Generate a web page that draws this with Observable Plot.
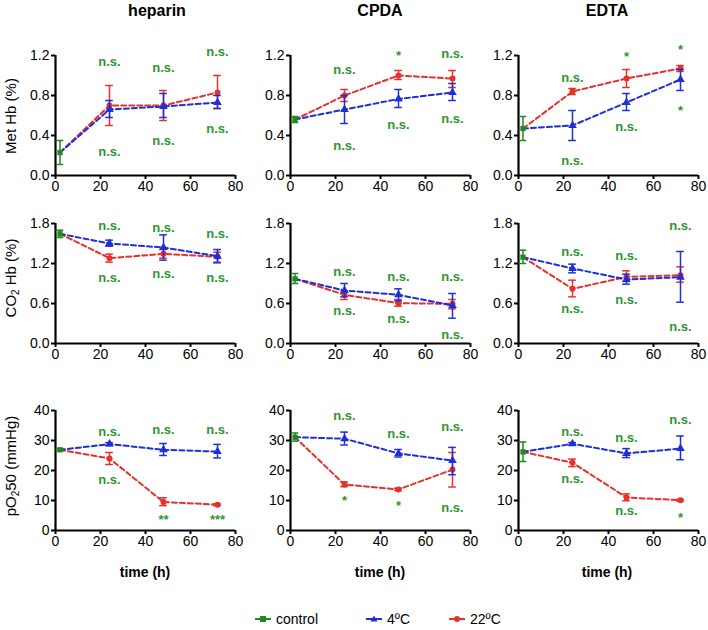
<!DOCTYPE html>
<html>
<head>
<meta charset="utf-8">
<script src="https://cdn.jsdelivr.net/npm/d3@7"></script>
<script src="https://cdn.jsdelivr.net/npm/@observablehq/plot@0.6"></script>
<style>
  html, body { margin: 0; padding: 0; background: #fff; }
  #root { position: relative; width: 708px; height: 630px; font-family: "Liberation Sans", Arial, sans-serif; color: #000; overflow: hidden; }
  .abs { position: absolute; }
  .title { font-weight: bold; font-size: 16px; transform: translateX(-50%); white-space: nowrap; }
  .xlab { font-weight: bold; font-size: 14px; transform: translateX(-50%); white-space: nowrap; }
  .ylab { font-size: 15px; white-space: nowrap; transform: translate(-50%, -50%) rotate(-90deg); }
  .ylab sub { font-size: 10px; vertical-align: -3px; line-height: 0; }
  .legend { display: flex; align-items: center; font-size: 14px; }
  .legend svg { margin-right: 5px; }
</style>
</head>
<body>
<div id="root"></div>
<script>
// ---------- data ----------
const anticoagulants = ["heparin", "CPDA", "EDTA"];
const measures = ["Met Hb", "CO2 Hb", "pO2 50"];
const xTicks = [0, 20, 40, 60, 80];
const yTicksMet = [0, 0.4, 0.8, 1.2];
const yTicksCO2 = [0, 0.6, 1.2, 1.8];
const yTicksPO2 = [0, 10, 20, 30, 40];
const controlTime = 2;
const seriesNames = ["control", "4ºC", "22ºC"];

// rows: [time, mean, low, high]
const heparinMet_control = [2, 0.23, 0.11, 0.35];
const heparinMet_4C  = [[24, 0.66, 0.58, 0.75], [48, 0.69, 0.58, 0.82], [72, 0.73, 0.67, 0.80]];
const heparinMet_22C = [[24, 0.70, 0.50, 0.90], [48, 0.70, 0.55, 0.85], [72, 0.83, 0.67, 1.00]];
const heparinMet_sig = [[24, 1.14, "n.s."], [48, 1.08, "n.s."], [72, 1.24, "n.s."], [24, 0.24, "n.s."], [48, 0.35, "n.s."], [72, 0.47, "n.s."]];

const cpdaMet_control = [2, 0.56, 0.53, 0.59];
const cpdaMet_4C  = [[24, 0.66, 0.52, 0.80], [48, 0.765, 0.68, 0.86], [72, 0.83, 0.75, 0.92]];
const cpdaMet_22C = [[24, 0.80, 0.74, 0.86], [48, 1.00, 0.96, 1.05], [72, 0.97, 0.88, 1.05]];
const cpdaMet_sig = [[24, 1.06, "n.s."], [48, 1.20, "*"], [72, 1.22, "n.s."], [24, 0.30, "n.s."], [48, 0.51, "n.s."], [72, 0.57, "n.s."]];

const edtaMet_control = [2, 0.47, 0.35, 0.59];
const edtaMet_4C  = [[24, 0.50, 0.35, 0.65], [48, 0.73, 0.65, 0.82], [72, 0.96, 0.85, 1.06]];
const edtaMet_22C = [[24, 0.84, 0.81, 0.87], [48, 0.97, 0.88, 1.06], [72, 1.07, 1.04, 1.10]];
const edtaMet_sig = [[24, 0.98, "n.s."], [48, 1.19, "*"], [72, 1.26, "*"], [24, 0.15, "n.s."], [48, 0.49, "n.s."], [72, 0.65, "*"]];

const heparinCO2_control = [2, 1.645, 1.59, 1.70];
const heparinCO2_4C  = [[24, 1.50, 1.46, 1.55], [48, 1.44, 1.25, 1.63], [72, 1.31, 1.21, 1.41]];
const heparinCO2_22C = [[24, 1.28, 1.22, 1.34], [48, 1.345, 1.28, 1.41], [72, 1.30, 1.22, 1.37]];
const heparinCO2_sig = [[24, 1.76, "n.s."], [48, 1.74, "n.s."], [72, 1.65, "n.s."], [24, 0.985, "n.s."], [48, 1.045, "n.s."], [72, 0.985, "n.s."]];

const cpdaCO2_control = [2, 0.97, 0.90, 1.05];
const cpdaCO2_4C  = [[24, 0.795, 0.70, 0.90], [48, 0.73, 0.64, 0.82], [72, 0.57, 0.38, 0.75]];
const cpdaCO2_22C = [[24, 0.73, 0.66, 0.79], [48, 0.605, 0.56, 0.66], [72, 0.595, 0.52, 0.66]];
const cpdaCO2_sig = [[24, 1.08, "n.s."], [48, 1.005, "n.s."], [72, 1.005, "n.s."], [24, 0.495, "n.s."], [48, 0.37, "n.s."], [72, 0.135, "n.s."]];

const edtaCO2_control = [2, 1.295, 1.20, 1.40];
const edtaCO2_4C  = [[24, 1.125, 1.06, 1.19], [48, 0.96, 0.89, 1.04], [72, 0.995, 0.62, 1.38]];
const edtaCO2_22C = [[24, 0.82, 0.70, 0.95], [48, 1.00, 0.93, 1.09], [72, 1.025, 0.92, 1.15]];
const edtaCO2_sig = [[24, 1.375, "n.s."], [48, 1.31, "n.s."], [72, 1.77, "n.s."], [24, 0.52, "n.s."], [48, 0.655, "n.s."], [72, 0.245, "n.s."]];

const heparinPO2_control = [2, 26.9, 26.5, 27.3];
const heparinPO2_4C  = [[24, 28.8, 28.3, 29.3], [48, 26.9, 25.0, 29.0], [72, 26.3, 24.2, 28.7]];
const heparinPO2_22C = [[24, 24.0, 22.0, 26.0], [48, 9.5, 8.3, 10.9], [72, 8.6, 8.3, 8.9]];
const heparinPO2_sig = [[24, 32.9, "n.s."], [48, 33.4, "n.s."], [72, 33.4, "n.s."], [24, 16.9, "n.s."], [48, 3.6, "**"], [72, 3.6, "***"]];

const cpdaPO2_control = [2, 31.1, 29.8, 32.5];
const cpdaPO2_4C  = [[24, 30.6, 28.5, 32.8], [48, 25.7, 24.5, 27.0], [72, 23.3, 18.6, 27.7]];
const cpdaPO2_22C = [[24, 15.3, 14.6, 16.2], [48, 13.7, 13.3, 14.1], [72, 20.3, 14.5, 26.0]];
const cpdaPO2_sig = [[24, 38.1, "n.s."], [48, 32.2, "n.s."], [72, 34.6, "n.s."], [24, 10.0, "*"], [48, 8.3, "*"], [72, 7.4, "n.s."]];

const edtaPO2_control = [2, 26.2, 23.0, 29.5];
const edtaPO2_4C  = [[24, 28.9, 28.5, 29.3], [48, 25.7, 24.3, 27.3], [72, 27.3, 23.6, 31.5]];
const edtaPO2_22C = [[24, 22.6, 21.3, 23.8], [48, 11.0, 9.9, 12.2], [72, 10.1, 9.8, 10.4]];
const edtaPO2_sig = [[24, 32.9, "n.s."], [48, 30.9, "n.s."], [72, 36.8, "n.s."], [24, 17.1, "n.s."], [48, 6.4, "n.s."], [72, 4.2, "*"]];

// ---------- styling / layout ----------
const COLORS = { control: "#1f8a1f", c4: "#1f2fd6", c22: "#e8302a", sig: "#2e9630" };
const FONT = "'Liberation Sans', Arial, sans-serif";
const colX0 = [55, 290, 518];     // pixel of x=0 in each column
const rowTop = [55, 223, 410];    // pixel of y-axis top in each row
const PW = 180, PH = 120;
const ML = 45, MR = 15, MT = 22, MB = 30;

const panels = [
  [heparinMet_control, heparinMet_4C, heparinMet_22C, heparinMet_sig, yTicksMet, ".1f"],
  [cpdaMet_control, cpdaMet_4C, cpdaMet_22C, cpdaMet_sig, yTicksMet, ".1f"],
  [edtaMet_control, edtaMet_4C, edtaMet_22C, edtaMet_sig, yTicksMet, ".1f"],
  [heparinCO2_control, heparinCO2_4C, heparinCO2_22C, heparinCO2_sig, yTicksCO2, ".1f"],
  [cpdaCO2_control, cpdaCO2_4C, cpdaCO2_22C, cpdaCO2_sig, yTicksCO2, ".1f"],
  [edtaCO2_control, edtaCO2_4C, edtaCO2_22C, edtaCO2_sig, yTicksCO2, ".1f"],
  [heparinPO2_control, heparinPO2_4C, heparinPO2_22C, heparinPO2_sig, yTicksPO2, "d"],
  [cpdaPO2_control, cpdaPO2_4C, cpdaPO2_22C, cpdaPO2_sig, yTicksPO2, "d"],
  [edtaPO2_control, edtaPO2_4C, edtaPO2_22C, edtaPO2_sig, yTicksPO2, "d"]
];

const root = document.getElementById("root");

function toRows(arr) { return arr.map(([x, y, lo, hi]) => ({x, y, lo, hi})); }

function errorMarks(rows, color) {
  const cap = 1.7;
  return [
    Plot.ruleX(rows, {x: "x", y1: "lo", y2: "hi", stroke: color, strokeWidth: 1.5}),
    Plot.ruleY(rows, {y: "hi", x1: d => d.x - cap, x2: d => d.x + cap, stroke: color, strokeWidth: 1.5}),
    Plot.ruleY(rows, {y: "lo", x1: d => d.x - cap, x2: d => d.x + cap, stroke: color, strokeWidth: 1.5})
  ];
}

function makePanel([control, s4, s22, sig, yTicks, fmt]) {
  const yMax = yTicks[yTicks.length - 1];
  const ctrl = toRows([control]);
  const r4 = toRows(s4), r22 = toRows(s22);
  const line4 = ctrl.concat(r4), line22 = ctrl.concat(r22);
  const sigRows = sig.map(([x, y, t]) => ({x, y, t}));
  return Plot.plot({
    width: ML + PW + MR, height: MT + PH + MB,
    marginLeft: ML, marginRight: MR, marginTop: MT, marginBottom: MB,
    x: {domain: [0, 80]},
    y: {domain: [0, yMax]},
    style: {fontFamily: FONT, fontSize: "14px", color: "#000", background: "transparent", overflow: "visible"},
    marks: [
      Plot.axisX({ticks: xTicks, tickSize: 4, tickPadding: 2, strokeWidth: 2, label: null, fill: "#000"}),
      Plot.axisY({ticks: yTicks, tickSize: 4, tickPadding: 2, strokeWidth: 2, label: null, tickFormat: d3.format(fmt), fill: "#000"}),
      Plot.ruleY([0], {x1: 0, x2: 80, stroke: "#000", strokeWidth: 2.2}),
      Plot.ruleX([0], {y1: 0, y2: yMax, stroke: "#000", strokeWidth: 2.2}),
      ...errorMarks(r22, COLORS.c22),
      Plot.line(line22, {x: "x", y: "y", stroke: COLORS.c22, strokeWidth: 2, strokeDasharray: "5,3"}),
      Plot.dot(r22, {x: "x", y: "y", fill: COLORS.c22, r: 3, symbol: "circle"}),
      ...errorMarks(r4, COLORS.c4),
      Plot.line(line4, {x: "x", y: "y", stroke: COLORS.c4, strokeWidth: 2, strokeDasharray: "5,3"}),
      Plot.dot(r4, {x: "x", y: "y", fill: COLORS.c4, r: 3.2, symbol: "triangle"}),
      ...errorMarks(ctrl, COLORS.control),
      Plot.dot(ctrl, {x: "x", y: "y", fill: COLORS.control, r: 3, symbol: "square"}),
      Plot.text(sigRows, {x: "x", y: "y", text: "t", fill: COLORS.sig, fontSize: 13, fontWeight: "bold"})
    ]
  });
}

panels.forEach((p, i) => {
  const row = Math.floor(i / 3), col = i % 3;
  const svg = makePanel(p);
  svg.style.position = "absolute";
  svg.style.left = (colX0[col] - ML) + "px";
  svg.style.top = (rowTop[row] - MT) + "px";
  root.appendChild(svg);
});

// titles
const titleX = [157, 380, 607];
anticoagulants.forEach((t, i) => {
  const d = document.createElement("div");
  d.className = "abs title"; d.textContent = t;
  d.style.left = titleX[i] + "px"; d.style.top = "2px";
  root.appendChild(d);
});

// x labels
const xlabX = [145, 380, 607];
xlabX.forEach(x => {
  const d = document.createElement("div");
  d.className = "abs xlab"; d.textContent = "time (h)";
  d.style.left = x + "px"; d.style.top = "564px";
  root.appendChild(d);
});

// y labels
const ylabHTML = ["Met Hb (%)", "CO<sub>2</sub> Hb (%)", "pO<sub>2</sub>50 (mmHg)"];
const ylabY = [116, 278, 466];
ylabHTML.forEach((h, i) => {
  const d = document.createElement("div");
  d.className = "abs ylab"; d.innerHTML = h;
  d.style.left = "10px"; d.style.top = ylabY[i] + "px";
  root.appendChild(d);
});

// legend
const legendX = [255, 366, 449];
const legendColors = [COLORS.control, COLORS.c4, COLORS.c22];
const legendShapes = ["square", "triangle", "circle"];
seriesNames.forEach((name, i) => {
  const d = document.createElement("div");
  d.className = "abs legend";
  d.style.left = legendX[i] + "px"; d.style.top = "611px";
  const c = legendColors[i];
  let shape;
  if (legendShapes[i] === "square") shape = `<rect x="5" y="3" width="6" height="6" fill="${c}"/>`;
  else if (legendShapes[i] === "triangle") shape = `<path d="M8,2.5 L11.5,8.5 L4.5,8.5 Z" fill="${c}"/>`;
  else shape = `<circle cx="8" cy="6" r="3" fill="${c}"/>`;
  d.innerHTML = `<svg width="16" height="12"><line x1="0" y1="6" x2="16" y2="6" stroke="${c}" stroke-width="2"/>${shape}</svg><span>${name}</span>`;
  root.appendChild(d);
});
</script>
</body>
</html>
